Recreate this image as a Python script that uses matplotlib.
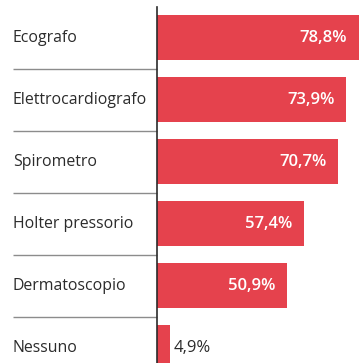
import numpy as np
import matplotlib.pyplot as plt
import matplotlib.transforms as mtransforms

# data
labels = ["Ecografo", "Elettrocardiografo", "Spirometro",
          "Holter pressorio", "Dermatoscopio", "Nessuno"]
values = [78.8, 73.9, 70.7, 57.4, 50.9, 4.9]
value_text = ["78,8%", "73,9%", "70,7%", "57,4%", "50,9%", "4,9%"]

red = "#e5424d"
dark = "#2b2b2b"

fig = plt.figure(figsize=(3.59, 3.63), dpi=100)
ax = fig.add_axes([0, 0, 1, 1])

y = np.arange(len(values))
ax.barh(y, values, height=0.71, color=red, left=0)

ax.set_xlim(-61.25, 78.8)
ax.set_ylim(5.25, -0.605)
ax.axis("off")

# category names on the left, in axes fraction for x
trans = mtransforms.blended_transform_factory(ax.transAxes, ax.transData)
for i, lab in enumerate(labels):
    ax.text(0.036, i, lab, transform=trans, ha="left", va="center",
            fontsize=11.4, color=dark, family="Open Sans")

# grey separators between rows, up to the axis line
x0 = 0.036
x1 = 61.25 / (61.25 + 78.8)
for i in range(len(labels) - 1):
    ax.plot([x0, x1], [i + 0.5, i + 0.5], transform=trans,
            color="#8c8c8c", lw=1.0, solid_capstyle="butt")

# vertical axis line
ax.plot([0, 0], [-0.49, 5.25], color=dark, lw=1.2)

# value labels
for i, (v, t) in enumerate(zip(values, value_text)):
    if v > 20:
        ax.text(v - 4.6, i, t, ha="right", va="center", fontsize=12,
                color="white", family="Open Sans", fontweight="semibold")
    else:
        ax.text(v + 1.5, i, t, ha="left", va="center", fontsize=12,
                color=dark, family="Open Sans")

fig.savefig("out.png", dpi=100)
